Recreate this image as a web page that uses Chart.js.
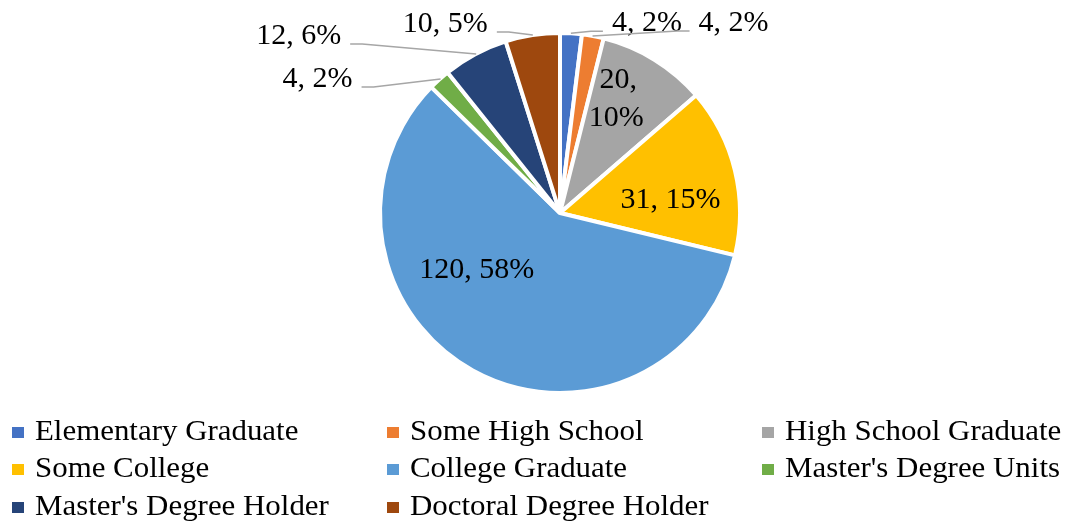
<!DOCTYPE html>
<html>
<head>
<meta charset="utf-8">
<script src="https://cdn.jsdelivr.net/npm/chart.js@4"></script>
<style>
body{margin:0;background:#fff;}
#wrap{position:relative;width:1073px;height:524px;overflow:hidden;}
#pie{position:absolute;left:0;top:0;}
.leg{position:absolute;font-family:"Liberation Serif","Times New Roman",serif;font-size:30px;line-height:30px;color:#000;white-space:nowrap;}
.leg span.box{position:absolute;left:0;top:0;width:12px;height:11px;}
.leg span.txt{position:absolute;left:0;top:0;transform-origin:0 0;transform:scaleX(1.03);}
</style>
</head>
<body>
<div id="wrap">
<canvas id="pie" width="1073" height="524"></canvas>
</div>
<script>
const categories=["Elementary Graduate","Some High School","High School Graduate","Some College","College Graduate","Master's Degree Units","Master's Degree Holder","Doctoral Degree Holder"]
const counts=[4,4,20,31,120,4,12,10]
const percents=[2,2,10,15,58,2,6,5]
const colors=["#4472C4","#ED7D31","#A5A5A5","#FFC000","#5B9BD5","#70AD47","#264478","#9E480E"]

// label placement: "in" = along mid angle at frac*r, "out" = from the arc edge with a leader line
const labelMode=["out","out","in","in","in","out","out","out"]
const labelFrac=[1,1,0.72,0.65,0.57,1,1,1]
const labelDx=[41,106,-10,-2,-34,-88,-135,-45]
const labelDy=[-12,-15,-5,14,-32,-2,-20,-13]

// legend
const legCols=[12,387,762]
const legRows=[427,464,502]
const wrap=document.getElementById("wrap")
categories.forEach((c,i)=>{
  const d=document.createElement("div")
  d.className="leg"
  d.style.left=legCols[i%3]+"px"
  d.style.top=legRows[Math.floor(i/3)]+"px"
  d.innerHTML='<span class="box" style="background:'+colors[i]+'"></span><span class="txt" style="left:23px;top:-12px">'+c.replace("'","&#39;")+'</span>'
  wrap.appendChild(d)
})

const pieLabels={
  id:"pieLabels",
  afterDatasetsDraw(chart){
    const ctx=chart.ctx
    const arcs=chart.getDatasetMeta(0).data
    ctx.save()
    ctx.font='30px "Liberation Serif", "Times New Roman", serif'
    ctx.fillStyle="#000"
    ctx.textBaseline="middle"
    arcs.forEach((arc,i)=>{
      const p=arc.getProps(["x","y","startAngle","endAngle","outerRadius"],true)
      const mid=(p.startAngle+p.endAngle)/2
      const r=178*labelFrac[i]
      const ax=p.x+Math.cos(mid)*r
      const ay=p.y+Math.sin(mid)*r
      const lx=ax+labelDx[i]
      const ly=ay+labelDy[i]
      const txt=counts[i]+", "+percents[i]+"%"
      if(labelMode[i]=="in"){
        ctx.textAlign="center"
        if(i==2){
          ctx.fillText(counts[i]+",",lx+1,ly-19)
          ctx.fillText(percents[i]+"%",lx-1,ly+19)
        }else{
          ctx.fillText(txt,lx,ly)
        }
      }else{
        const left=labelDx[i]<0
        ctx.textAlign=left?"right":"left"
        ctx.fillText(txt,lx,ly)
        const s=left?1:-1
        ctx.strokeStyle="#A6A6A6"
        ctx.lineWidth=1.5
        ctx.beginPath()
        ctx.moveTo(lx+s*9,ly+8)
        ctx.lineTo(lx+s*21,ly+8)
        ctx.lineTo(ax,ay-2)
        ctx.stroke()
      }
    })
    ctx.restore()
  }
}

new Chart(document.getElementById("pie"),{
  type:"pie",
  data:{
    labels:categories,
    datasets:[{
      data:counts,
      backgroundColor:colors,
      borderColor:"#fff",
      borderWidth:4
    }]
  },
  options:{
    responsive:false,
    animation:false,
    radius:180,
    layout:{padding:{left:380,right:333,top:33,bottom:131}},
    plugins:{legend:{display:false},tooltip:{enabled:false}}
  },
  plugins:[pieLabels]
})
</script>
</body>
</html>
